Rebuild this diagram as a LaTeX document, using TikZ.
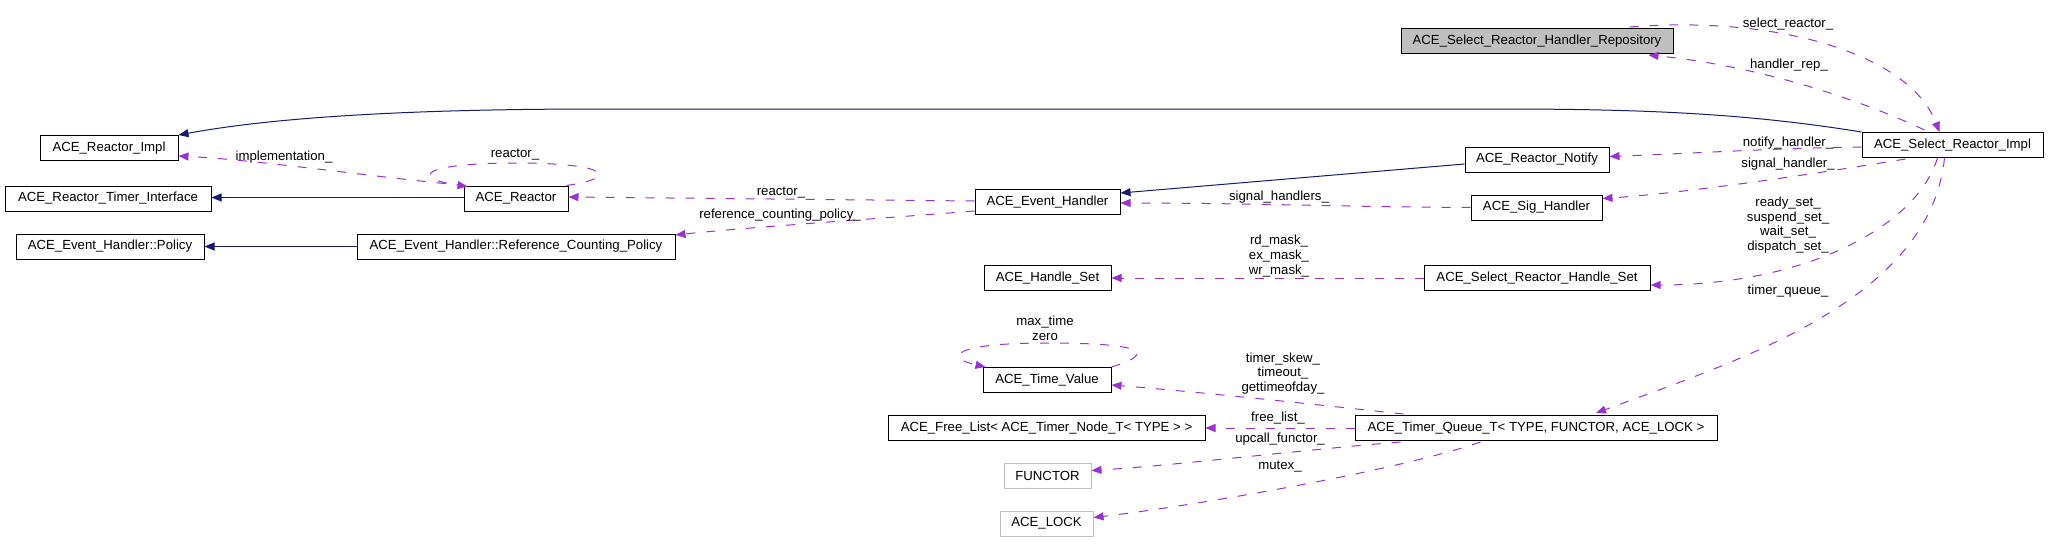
\documentclass[tikz,border=0pt]{standalone}
\usepackage{fontspec}
\setmainfont{Liberation Sans}
\usetikzlibrary{arrows.meta,calc}
\definecolor{navy}{HTML}{191970}
\definecolor{orchid}{HTML}{9A32CD}
\definecolor{grayfill}{HTML}{BFBFBF}
\tikzset{
  cls/.style={draw=black, line width=1pt, minimum height=25pt, inner sep=0pt, font=\fontsize{13.2}{15}\selectfont},
  ghost/.style={cls, draw=grayfill},
  focus/.style={cls, fill=grayfill},
  inherit/.style={draw=navy, line width=1pt, -{Triangle[length=10pt,width=8pt]}},
  member/.style={draw=orchid, line width=1pt, dash pattern=on 9pt off 11pt, -{Triangle[length=10pt,width=8pt]}},
  lbl/.style={inner sep=0pt, align=center, font=\fontsize{13.2}{14.7}\selectfont}
}
\begin{document}
\begin{tikzpicture}[x=1pt,y=-1pt]
\fill[white] (0,0) rectangle (2048,552);
\useasboundingbox (0,0) rectangle (2048,552);

% nodes
\node[focus, minimum width=272pt] (Repo) at (1537,41) {ACE\_Select\_Reactor\_Handler\_Repository};
\node[cls, minimum width=181pt] (Impl) at (1952.5,145) {ACE\_Select\_Reactor\_Impl};
\node[cls, minimum width=138pt] (ReactorImpl) at (109,148) {ACE\_Reactor\_Impl};
\node[cls, minimum width=206pt] (TimerIface) at (108,198.5) {ACE\_Reactor\_Timer\_Interface};
\node[cls, minimum width=104pt] (Reactor) at (516,198.5) {ACE\_Reactor};
\node[cls, minimum width=188pt] (Policy) at (110,246.5) {ACE\_Event\_Handler::Policy};
\node[cls, minimum width=318pt] (RCP) at (516,246.5) {ACE\_Event\_Handler::Reference\_Counting\_Policy};
\node[cls, minimum width=145pt] (EH) at (1047.5,202) {ACE\_Event\_Handler};
\node[cls, minimum width=144pt] (Notify) at (1537,159.5) {ACE\_Reactor\_Notify};
\node[cls, minimum width=131pt] (SigHandler) at (1536.5,207.5) {ACE\_Sig\_Handler};
\node[cls, minimum width=127pt] (HandleSet) at (1047.5,278) {ACE\_Handle\_Set};
\node[cls, minimum width=226pt] (SRHandleSet) at (1537,278) {ACE\_Select\_Reactor\_Handle\_Set};
\node[cls, minimum width=128pt] (TimeValue) at (1047,380) {ACE\_Time\_Value};
\node[cls, minimum width=317pt] (FreeList) at (1046.5,428) {ACE\_Free\_List< ACE\_Timer\_Node\_T< TYPE > >};
\node[cls, minimum width=362pt] (TQ) at (1536,428) {ACE\_Timer\_Queue\_T< TYPE, FUNCTOR, ACE\_LOCK >};
\node[ghost, minimum width=87pt] (FUNCTOR) at (1047.5,475.5) {FUNCTOR};
\node[ghost, minimum width=93pt] (LOCK) at (1046.5,523.5) {ACE\_LOCK};

% inheritance
\draw[inherit] (Impl.north west) .. controls (1750,114) and (1650,109) .. (1500,109) -- (600,109) .. controls (380,109) and (260,120) .. (ReactorImpl.north east);
\draw[inherit] ($(Reactor.west)+(0,-1)$) -- ($(TimerIface.east)+(0,-1)$);
\draw[inherit] (RCP.west) -- (Policy.east);
\draw[inherit] ($(Notify.west)+(0,4.5)$) -- ($(EH.north east)+(0,4)$);

% members
\draw[member] ($(Reactor.north west)+(2,0)$) .. controls (380,178) and (260,160) .. ($(ReactorImpl.east)+(0,8)$);
\draw[member] ($(Reactor.north east)+(-2,0)$) .. controls (620,178) and (610,163) .. (516,163) .. controls (420,163) and (410,178) .. ($(Reactor.north west)+(4,1)$);
\draw[member] ($(EH.west)+(0,-1)$) -- ($(Reactor.east)+(0,-1.5)$);
\draw[member] ($(EH.west)+(0,9)$) .. controls (860,220) and (740,228) .. ($(RCP.north east)+(0,1.5)$);
\draw[member] (SigHandler.west) .. controls (1350,207) and (1250,203) .. ($(EH.east)+(0,1)$);
\draw[member] (SRHandleSet.west) -- (HandleSet.east);
\draw[member] (TimeValue.north east) .. controls (1160,352) and (1140,343) .. (1047,343) .. controls (950,343) and (945,358) .. ($(TimeValue.north west)+(3,0)$);
\draw[member] ($(TQ.north west)+(49,-1)$) .. controls (1320,405) and (1200,392) .. ($(TimeValue.east)+(0,5)$);
\draw[member] (TQ.west) -- (FreeList.east);
\draw[member] ($(TQ.south west)+(46,1)$) .. controls (1300,450) and (1180,465) .. ($(FUNCTOR.east)+(0,-5)$);
\draw[member] ($(TQ.south west)+(126,1)$) .. controls (1400,470) and (1200,505) .. ($(LOCK.east)+(0,-6)$);
\draw[member] ($(Repo.north east)+(-44,-1)$) .. controls (1780,15) and (1910,55) .. ($(Impl.north)+(-13,0)$);
\draw[member] ($(Impl.north)+(-28,-2)$) .. controls (1850,95) and (1750,65) .. ($(Repo.south east)+(-25,1)$);
\draw[member] ($(Impl.west)+(0,2)$) .. controls (1780,148) and (1700,153) .. ($(Notify.east)+(0,-3)$);
\draw[member] ($(Impl.south west)+(44,1)$) .. controls (1850,168) and (1700,192) .. ($(SigHandler.east)+(0,-9)$);
\draw[member] ($(Impl.south)+(-15,0)$) .. controls (1915,230) and (1800,285) .. ($(SRHandleSet.east)+(0,7)$);
\draw[member] ($(Impl.south)+(-8,0)$) .. controls (1930,300) and (1740,360) .. ($(TQ.north)+(60,-2)$);

% labels
\node[lbl] (l1) at (284,157) {implementation\_};
\node[lbl] (l2) at (515,155) {reactor\_};
\node[lbl] (l3) at (781,193) {reactor\_};
\node[lbl] (l4) at (780,215) {reference\_counting\_policy\_};
\node[lbl] (l5) at (1279,197) {signal\_handlers\_};
\node[lbl] (l6) at (1279,256) {rd\_mask\_\\ex\_mask\_\\wr\_mask\_};
\node[lbl] (l7) at (1788,24) {select\_reactor\_};
\node[lbl] (l8) at (1789,65) {handler\_rep\_};
\node[lbl] (l9) at (1788,143) {notify\_handler\_};
\node[lbl] (l10) at (1788,164) {signal\_handler\_};
\node[lbl] (l11) at (1788,225) {ready\_set\_\\suspend\_set\_\\wait\_set\_\\dispatch\_set\_};
\node[lbl] (l12) at (1788,291) {timer\_queue\_};
\node[lbl] (l13) at (1045,328.5) {max\_time\\zero};
\node[lbl] (l14) at (1283,373.5) {timer\_skew\_\\timeout\_\\gettimeofday\_};
\node[lbl] (l15) at (1278,418) {free\_list\_};
\node[lbl] (l16) at (1280,439) {upcall\_functor\_};
\node[lbl] (l17) at (1280,467) {mutex\_};
\end{tikzpicture}
\end{document}
